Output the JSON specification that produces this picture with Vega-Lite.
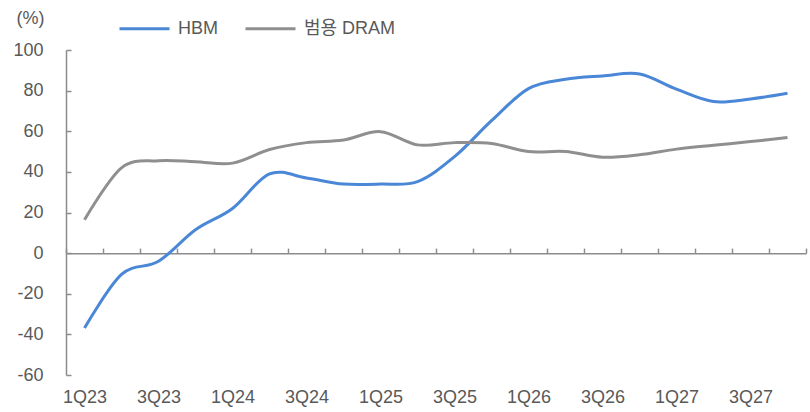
{
  "$schema": "https://vega.github.io/schema/vega-lite/v6.json",
  "width": 740,
  "height": 325,
  "autosize": {"type": "none"},
  "padding": {"left": 66, "top": 50, "right": 4, "bottom": 37},
  "background": "white",
  "config": {
    "view": {"stroke": null},
    "font": "Liberation Sans, Noto Sans CJK KR",
    "axis": {"labelFont": "Liberation Sans, Noto Sans CJK KR", "titleFont": "Liberation Sans, Noto Sans CJK KR"},
    "legend": {"labelFont": "Liberation Sans, Noto Sans CJK KR"}
  },
  "data": {
    "values": [
      {"q": "1Q23", "s": "HBM", "v": -36.9}, {"q": "1Q23", "s": "범용 DRAM", "v": 16.4},
      {"q": "2Q23", "s": "HBM", "v": -10.5}, {"q": "2Q23", "s": "범용 DRAM", "v": 42.0},
      {"q": "3Q23", "s": "HBM", "v": -4.0}, {"q": "3Q23", "s": "범용 DRAM", "v": 45.5},
      {"q": "4Q23", "s": "HBM", "v": 11.5}, {"q": "4Q23", "s": "범용 DRAM", "v": 45.0},
      {"q": "1Q24", "s": "HBM", "v": 22.0}, {"q": "1Q24", "s": "범용 DRAM", "v": 44.3},
      {"q": "2Q24", "s": "HBM", "v": 39.0}, {"q": "2Q24", "s": "범용 DRAM", "v": 51.0},
      {"q": "3Q24", "s": "HBM", "v": 37.0}, {"q": "3Q24", "s": "범용 DRAM", "v": 54.4},
      {"q": "4Q24", "s": "HBM", "v": 34.0}, {"q": "4Q24", "s": "범용 DRAM", "v": 55.7},
      {"q": "1Q25", "s": "HBM", "v": 34.0}, {"q": "1Q25", "s": "범용 DRAM", "v": 59.8},
      {"q": "2Q25", "s": "HBM", "v": 35.2}, {"q": "2Q25", "s": "범용 DRAM", "v": 53.3},
      {"q": "3Q25", "s": "HBM", "v": 47.5}, {"q": "3Q25", "s": "범용 DRAM", "v": 54.4},
      {"q": "4Q25", "s": "HBM", "v": 65.2}, {"q": "4Q25", "s": "범용 DRAM", "v": 54.0},
      {"q": "1Q26", "s": "HBM", "v": 81.0}, {"q": "1Q26", "s": "범용 DRAM", "v": 50.0},
      {"q": "2Q26", "s": "HBM", "v": 85.6}, {"q": "2Q26", "s": "범용 DRAM", "v": 50.0},
      {"q": "3Q26", "s": "HBM", "v": 87.2}, {"q": "3Q26", "s": "범용 DRAM", "v": 47.2},
      {"q": "4Q26", "s": "HBM", "v": 88.2}, {"q": "4Q26", "s": "범용 DRAM", "v": 48.4},
      {"q": "1Q27", "s": "HBM", "v": 80.7}, {"q": "1Q27", "s": "범용 DRAM", "v": 51.2},
      {"q": "2Q27", "s": "HBM", "v": 74.6}, {"q": "2Q27", "s": "범용 DRAM", "v": 53.1},
      {"q": "3Q27", "s": "HBM", "v": 75.9}, {"q": "3Q27", "s": "범용 DRAM", "v": 54.9},
      {"q": "4Q27", "s": "HBM", "v": 78.7}, {"q": "4Q27", "s": "범용 DRAM", "v": 56.9}
    ]
  },
  "mark": {"type": "line", "interpolate": "cardinal", "tension": 0, "strokeWidth": 3},
  "encoding": {
    "x": {
      "field": "q",
      "type": "ordinal",
      "sort": null,
      "scale": {"type": "band", "paddingInner": 0, "paddingOuter": 0},
      "axis": {
        "title": null,
        "orient": "top",
        "offset": -203.125,
        "domainColor": "#8c8c8c",
        "domainWidth": 1.5,
        "ticks": true,
        "tickBand": "extent",
        "tickColor": "#8c8c8c",
        "tickWidth": 1.5,
        "tickSize": 5,
        "labelAngle": 0,
        "labelFontSize": 18,
        "labelColor": "#595959",
        "labelOverlap": false,
        "labelBaseline": "middle",
        "labelPadding": -149,
        "labelExpr": "(substring(datum.label,0,1) == '1' || substring(datum.label,0,1) == '3') ? datum.label : ''"
      }
    },
    "y": {
      "field": "v",
      "type": "quantitative",
      "scale": {"domain": [-60, 100], "nice": false, "zero": false},
      "axis": {
        "orient": "right",
        "offset": -740,
        "values": [-60, -40, -20, 0, 20, 40, 60, 80, 100],
        "grid": false,
        "domainColor": "#8c8c8c",
        "domainWidth": 1.5,
        "tickColor": "#8c8c8c",
        "tickWidth": 1.5,
        "tickSize": 5,
        "labelFontSize": 18,
        "labelColor": "#595959",
        "labelAlign": "right",
        "labelPadding": -28,
        "labelExpr": "replace(datum.label, '−', '-')",
        "title": "(%)",
        "titleAngle": 0,
        "titleX": -36,
        "titleY": -32,
        "titleAlign": "center",
        "titleBaseline": "middle",
        "titleFontSize": 18,
        "titleFontWeight": "normal",
        "titleColor": "#595959"
      }
    },
    "color": {
      "field": "s",
      "type": "nominal",
      "scale": {"domain": ["HBM", "범용 DRAM"], "range": ["#4A87D6", "#8F8F8F"]},
      "legend": {
        "title": null,
        "orient": "none",
        "legendX": 52,
        "legendY": -48,
        "direction": "horizontal",
        "symbolType": "stroke",
        "symbolSize": 2500,
        "symbolStrokeWidth": 3,
        "labelFontSize": 18,
        "labelColor": "#595959",
        "labelOffset": 7,
        "columnPadding": 21
      }
    }
  }
}
